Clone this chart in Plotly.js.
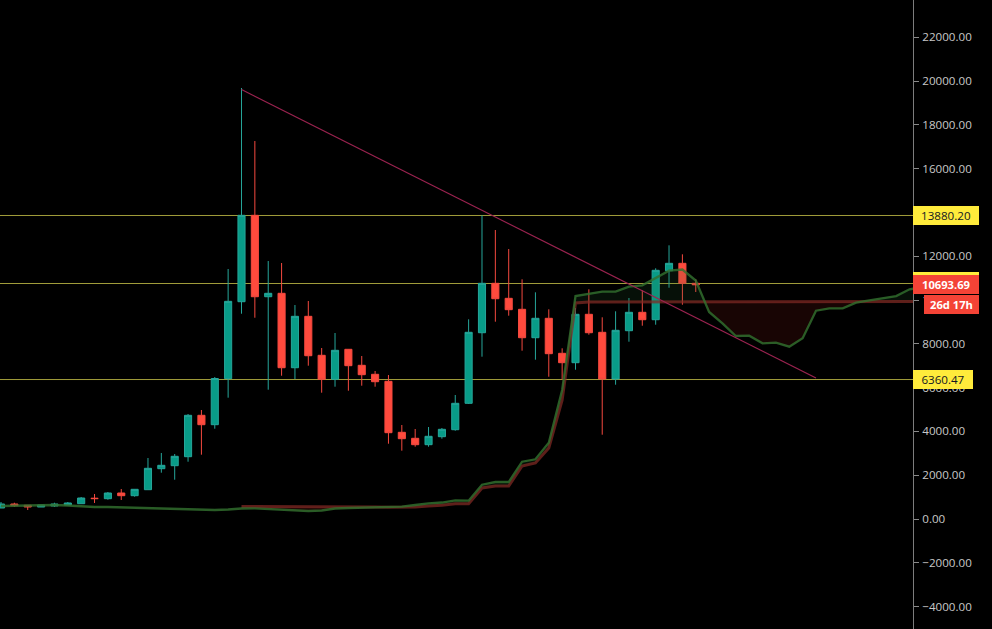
<!DOCTYPE html>
<html><head><meta charset="utf-8">
<script src="https://cdn.plot.ly/plotly-3.0.1.min.js"></script>
<style>html,body{margin:0;padding:0;background:#000}#c{width:992px;height:629px}</style></head>
<body><div id="c"></div>
<script>
const open_=[502,685,626,548,594,639,699,950,927,1187,1064,1338,2297,2434,2845,4735,4306,6406,9922,13867,10150,10306,6908,9255,7475,6379,7749,7018,6607,6287,3959,3685,3393,3758,4077,5283,8506,10762,10077,9575,8278,9164,7566,7137,9347,8525,6392,8598,9438,9100,11337,11675,10762];
const close_=[685,607,548,639,685,731,959,931,1187,1064,1356,2315,2452,2863,4735,4306,6415,9940,13867,10150,10306,6908,9255,7456,6379,7703,7000,6589,6269,3941,3667,3393,3776,4096,5283,8525,10762,10059,9557,8278,9164,7548,7137,9347,8506,6392,8616,9438,9100,11356,11675,10762,10693.69];
const high_=[776,744,639,639,744,776,1005,1142,1233,1370,1356,2785,3014,2968,4794,4977,6484,11415,19680,17259,11780,11689,9771,9954,7808,8493,7762,7443,6758,6575,4292,4109,4201,4155,5662,9118,13867,13196,12328,10945,10351,9575,7794,9634,10488,9210,9484,10091,10442,11447,12497,12086,10945];
const low_=[502,548,411,548,548,639,699,731,881,868,1018,1338,2114,1794,2616,2936,4123,5539,9374,9191,5904,6543,6392,7000,5767,6041,5858,6087,6041,3438,3119,3301,3301,3667,4032,5251,7411,9009,9283,7685,7274,6497,6347,6817,8415,3849,6132,8096,8826,8872,10561,9785,10365];
const greenLine=[594,607,626,639,639,616,571,548,548,534,516,502,493,457,443,425,411,434,479,489,457,411,379,365,388,479,502,516,525,534,562,639,717,753,854,836,1566,1689,1689,2616,2726,3484,5890,10182,10273,10379,10379,10607,10671,10990,11337,11392,10890,9452,8936,8356,8369,8022,8050,7867,8251,9511,9621,9621,9876,9986,10091,10182,10488,10593];
const redStart=18;
const redLine=[571,571,575,575,571,566,566,566,562,562,553,534,534,548,594,626,699,699,1415,1507,1507,2420,2557,3242,5434,9863,9908,9908,9908,9908,9908,9908,9908,9908,9908,9908,9922,9922,9922,9922,9922,9922,9922,9931,9931,9931,9931,9931,9931,9931,9931,9931];
const trendX=[18,61];
const trendY=[19611,6438];
const levelLines=[13859,10753,6369];
const levelTags=[13880.20,6360.47];
const tickVals=[-4000,-2000,0,2000,4000,6000,8000,10000,12000,14000,16000,18000,20000,22000];
const tickText=['\u22124000.00','\u22122000.00','0.00','2000.00','4000.00','6000.00','8000.00','10000.00','12000.00','14000.00','16000.00','18000.00','20000.00','22000.00'];
const lastPrice=10693.69;
const hiddenTag=10852;
const countdown='26d 17h';

const idx=open_.map((_,i)=>i);
const UP='#089c88',UPL='#26a69a',DN='#ff4a3d',DNL='#f4493f';
const gx=greenLine.map((_,i)=>i);
const rx=redLine.map((_,i)=>i+redStart);

const X=[],A=[],B=[];
for(let k=0;k<redLine.length;k++){
  const i=rx[k],a=greenLine[i],b=redLine[k];
  X.push(i);A.push(a);B.push(b);
  if(k<redLine.length-1){
    const a2=greenLine[i+1],b2=redLine[k+1],d1=a-b,d2=a2-b2;
    if(d1*d2<0){const t=d1/(d1-d2);const v=b+(b2-b)*t;X.push(i+t);A.push(v);B.push(v);}
  }
}
const noLine={width:0,color:'rgba(0,0,0,0)'};
const traces=[
 {type:'candlestick',x:idx,open:open_,high:high_,low:low_,close:close_,whiskerwidth:0,hoverinfo:'skip',
  increasing:{line:{color:UPL,width:1},fillcolor:UP},decreasing:{line:{color:DNL,width:1},fillcolor:DN}},
 {type:'scatter',mode:'lines',x:X,y:B,line:noLine,hoverinfo:'skip'},
 {type:'scatter',mode:'lines',x:X,y:X.map((_,i)=>Math.max(A[i],B[i])),line:noLine,fill:'tonexty',fillcolor:'rgba(40,110,60,0.14)',hoverinfo:'skip'},
 {type:'scatter',mode:'lines',x:X,y:X.map((_,i)=>Math.min(A[i],B[i])),line:noLine,hoverinfo:'skip'},
 {type:'scatter',mode:'lines',x:X,y:B,line:noLine,fill:'tonexty',fillcolor:'rgba(150,30,25,0.16)',hoverinfo:'skip'},
 {type:'scatter',mode:'lines',x:rx,y:redLine,line:{color:'rgba(130,42,36,0.72)',width:3},hoverinfo:'skip'},
 {type:'scatter',mode:'lines',x:gx,y:greenLine,line:{color:'rgba(50,112,46,0.82)',width:2.3},hoverinfo:'skip'},
 {type:'scatter',mode:'lines',x:trendX,y:trendY,line:{color:'#9c2350',width:1.2},hoverinfo:'skip'}
];
const tag=(y,text,bg,col,w,size,yshift,xshift)=>({xref:'paper',yref:'y',x:1,y:y,xanchor:'left',yanchor:'middle',xshift:xshift||0,yshift:yshift||0,
  text:text,showarrow:false,bgcolor:bg,width:w,height:19,borderpad:0,borderwidth:0,align:'center',
  font:{family:'"Open Sans",sans-serif',size:size,color:col}});
const layout={
 width:992,height:629,paper_bgcolor:'#000',plot_bgcolor:'#000',showlegend:false,boxgap:0.24,
 margin:{l:0,r:79,t:0,b:0},
 xaxis:{range:[-0.075,68.26],visible:false,rangeslider:{visible:false},fixedrange:true},
 yaxis:{side:'right',range:[-5023,23699],tickmode:'array',tickvals:tickVals,ticktext:tickText,showgrid:false,zeroline:false,
   ticks:'outside',ticklen:5,tickwidth:1,tickcolor:'#8a8a8a',showline:true,linecolor:'#7c7c7c',linewidth:1,
   ticklabelstandoff:1,
   tickfont:{family:'"Open Sans",sans-serif',size:11.6,color:'#c8c8c8'},fixedrange:true},
 shapes:levelLines.map(v=>({type:'line',xref:'paper',x0:0,x1:1,yref:'y',y0:v,y1:v,layer:'below',line:{color:'#a09c3a',width:1}})),
 annotations:[
  tag(levelTags[0],'13880.20','#ffeb3b','#131722',66,11.6),
  tag(hiddenTag,'','#ffeb3b','#131722',66,11.6),
  tag(lastPrice,'<b>'+lastPrice.toFixed(2)+'</b>','#f44336','#ffffff',66,11.2),
  tag(lastPrice,'<b>'+countdown+'</b>','#f44336','#ffffff',55,11.2,-20,11),
  tag(levelTags[1],'6360.47','#ffeb3b','#131722',60,11.6)
 ]
};
Plotly.newPlot('c',traces,layout,{displayModeBar:false,staticPlot:true});
</script></body></html>
